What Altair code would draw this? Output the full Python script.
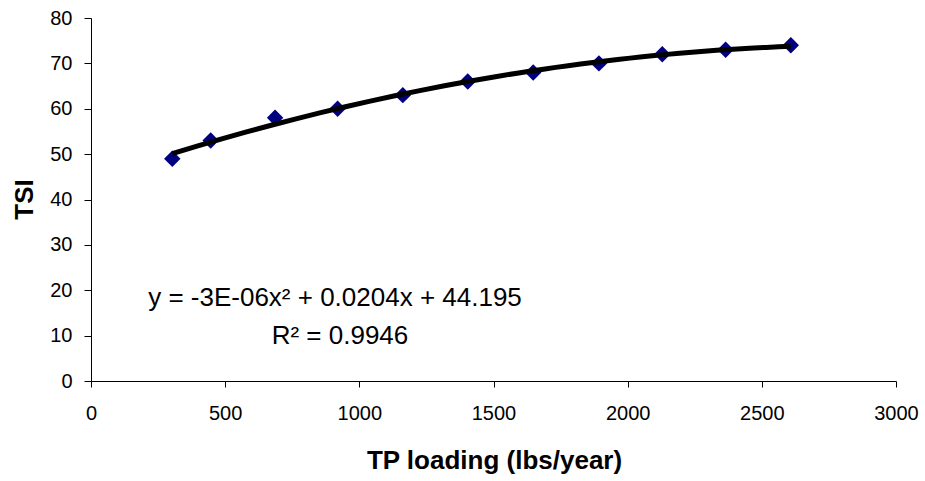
import altair as alt
import pandas as pd

# Data
tp_loading = [303, 446, 686, 919, 1162, 1404, 1648, 1893, 2129, 2365, 2608]
tsi = [49, 53, 58, 60, 63, 66, 68, 70, 72, 73, 74]
eq_lines = ["y = -3E-06x\u00b2 + 0.0204x + 44.195", "R\u00b2 = 0.9946"]

df = pd.DataFrame({"x": tp_loading, "y": tsi})
FONT = "Liberation Sans"

x_enc = alt.X(
    "x:Q",
    scale=alt.Scale(domain=[0, 3000], nice=False, zero=True),
    axis=alt.Axis(
        values=[0, 500, 1000, 1500, 2000, 2500, 3000], format="d",
        grid=False, tickSize=6, tickColor="#000", domainColor="#000",
        labelFont=FONT, labelFontSize=20, labelColor="#000",
        labelBaseline="alphabetic", labelPadding=32, labelFlush=False,
        title="TP loading (lbs/year)", titleFont=FONT, titleFontSize=26,
        titleFontWeight="bold", titleColor="#000", titleX=403, titleY=87,
        titleBaseline="alphabetic", titleAlign="center",
    ),
)
y_enc = alt.Y(
    "y:Q",
    scale=alt.Scale(domain=[0, 80], nice=False),
    axis=alt.Axis(
        values=list(range(0, 81, 10)), format="d",
        grid=False, tickSize=7, tickColor="#000", domainColor="#000",
        labelFont=FONT, labelFontSize=20, labelColor="#000",
        labelPadding=12, labelFlush=False, labelBaseline="middle",
        title="TSI", titleFont=FONT, titleFontSize=26, titleFontWeight="bold",
        titleColor="#000", titleAngle=270, titleX=-59, titleY=181,
        titleBaseline="alphabetic", titleAlign="center",
    ),
)

base = alt.Chart(df)

points = base.mark_point(
    shape="diamond", filled=True, size=270, color="#000080", opacity=1
).encode(x=x_enc, y=y_enc)

trend = base.transform_regression(
    "x", "y", method="poly", order=2
).mark_line(color="#000", strokeWidth=5).encode(x="x:Q", y="y:Q")

eq_df = pd.DataFrame({"label": eq_lines, "px": [244, 249], "py": [288, 326]})
eq = alt.Chart(eq_df).mark_text(
    font=FONT, fontSize=26, color="#000", align="center", baseline="alphabetic"
).encode(
    text="label:N",
    x=alt.X("px:Q", scale=None),
    y=alt.Y("py:Q", scale=None),
)

chart = alt.layer(points, trend, eq).properties(
    width=805, height=363,
    autosize=alt.AutoSizeParams(type="none"),
    padding={"left": 91, "top": 18, "right": 29, "bottom": 100},
    background="white",
).configure_view(stroke=None)

chart.save("out.html", embed_options={"renderer": "svg", "actions": False})
